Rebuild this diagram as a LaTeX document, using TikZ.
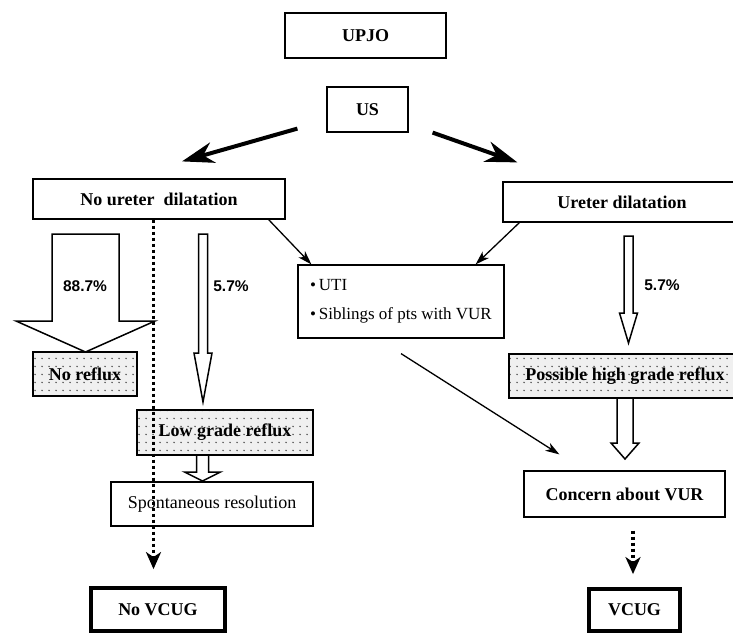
\documentclass[tikz,border=0pt]{standalone}
\usepackage{fontspec}
\setmainfont{Liberation Serif}
\newfontfamily\pctfont{Liberation Sans}
\usetikzlibrary{arrows.meta,patterns.meta,calc}

\tikzdeclarepattern{
  name=sdots,
  type=colored,
  bounding box={(0pt,0pt) and (6.5pt,7.5pt)},
  tile size={(6.5pt,7.5pt)},
  code={\fill[black!70] (3.25pt,3.75pt) circle (0.85pt);}
}

\begin{document}
\begin{tikzpicture}[x=1pt,y=-1pt,
  box/.style 2 args={draw, line width=1.2pt, inner sep=0pt,
    minimum width=#1pt, minimum height=#2pt,
    font=\fontsize{18}{20}\selectfont\bfseries},
  plainbox/.style 2 args={box={#1}{#2}, font=\fontsize{18}{20}\selectfont},
  dotbox/.style 2 args={box={#1}{#2}, preaction={fill=gray!12}, pattern=sdots},
  heavybox/.style 2 args={box={#1}{#2}, line width=3.8pt},
  pct/.style={font=\fontsize{15.5}{17}\selectfont\pctfont\bfseries, inner sep=0pt},
  bigarr/.style={line width=4pt, -{Stealth[length=32pt,width=21pt,inset=10pt]}},
  thinarr/.style={line width=1.3pt, -{Stealth[length=14pt,width=9pt,inset=4pt]}},
  dotarr/.style={line width=3.2pt, dash pattern=on 3.5pt off 2.5pt,
    -{Stealth[length=17pt,width=15pt,inset=5pt]}},
  blockarr/.style={draw, line width=1.5pt, fill=white, line join=miter},
]
\useasboundingbox (0,0) rectangle (733,634);
\clip (0,0) rectangle (733,634);

% boxes
\node[box={161}{45}] (upjo) at (365.5,35.5) {UPJO};
\node[box={81}{45}] (us) at (367.5,109.5) {US};
\node[box={252}{40}] (nodil) at (159,199) {No ureter \ dilatation};
\node[box={238}{40}] (dil) at (622,202) {Ureter dilatation};
\node[plainbox={206}{73}, align=left, font=\fontsize{17}{29}\selectfont] (uti) at (401,301.5)
  {\textbullet\,UTI\\\textbullet\,Siblings of pts with VUR};
\node[dotbox={104}{44}] (norefl) at (85,374) {No reflux};
\node[dotbox={176}{45}] (low) at (225,432.5) {Low grade reflux};
\node[plainbox={202}{44}] (spont) at (212,504) {Spontaneous resolution};
\node[dotbox={232}{44}] (phg) at (625,376) {Possible high grade reflux};
\node[box={201}{46}] (concern) at (624.5,494) {Concern about VUR};
\node[heavybox={134}{43}] (novcug) at (158,609.5) {No VCUG};
\node[heavybox={91}{42}] (vcug) at (634.5,610) {VCUG};

% thick arrows from US
\coordinate (usl) at ([xshift=-29pt,yshift=4pt]us.south west);
\coordinate (ndl) at ([xshift=23pt,yshift=17pt]nodil.north);
\coordinate (usr) at ([xshift=24pt]us.south east);
\coordinate (dlr) at ([xshift=15pt,yshift=19pt]dil.north west);
\draw[bigarr] (usl) -- (ndl);
\draw[bigarr] (usr) -- (dlr);

% thin arrows
\draw[thinarr] ([xshift=-17pt]nodil.south east) -- ([xshift=14pt]uti.north west);
\draw[thinarr] ([xshift=17pt]dil.south west) -- ([xshift=-29pt]uti.north east);
\draw[thinarr] ([yshift=-15pt]uti.south) -- ([xshift=36pt,yshift=16pt]concern.north west);

% block arrows
\draw[blockarr] (52,234) -- (119,234) -- (119,321) -- (155,321) -- (85.5,352)
  -- (16,321) -- (52,321) -- cycle;
\draw[blockarr] (198.5,234) -- (207.5,234) -- (207.5,353) -- (212,353) -- (203,402)
  -- (194,353) -- (198.5,353) -- cycle;
\draw[blockarr] (624,236) -- (633,236) -- (633,313) -- (637.5,313) -- (628.5,343)
  -- (619.5,313) -- (624,313) -- cycle;
\draw[blockarr] (196.5,455) -- (208.5,455) -- (208.5,472) -- (220.5,472) -- (202.5,481)
  -- (184.5,472) -- (196.5,472) -- cycle;
\draw[blockarr] (617,398) -- (633,398) -- (633,443) -- (639,443) -- (625,459)
  -- (611,443) -- (617,443) -- cycle;

% labels
\node[pct] (p887) at (85,286) {88.7\%};
\node[pct] (p57l) at (231,286) {5.7\%};
\node[pct] (p57r) at (662,285) {5.7\%};

% dotted arrows
\draw[dotarr] ([xshift=-5.5pt]nodil.south) -- ([xshift=-4.5pt,yshift=17pt]novcug.north);
\draw[dotarr] ([xshift=8.5pt,yshift=-13pt]concern.south) -- ([xshift=-1.5pt,yshift=13pt]vcug.north);
\end{tikzpicture}
\end{document}
